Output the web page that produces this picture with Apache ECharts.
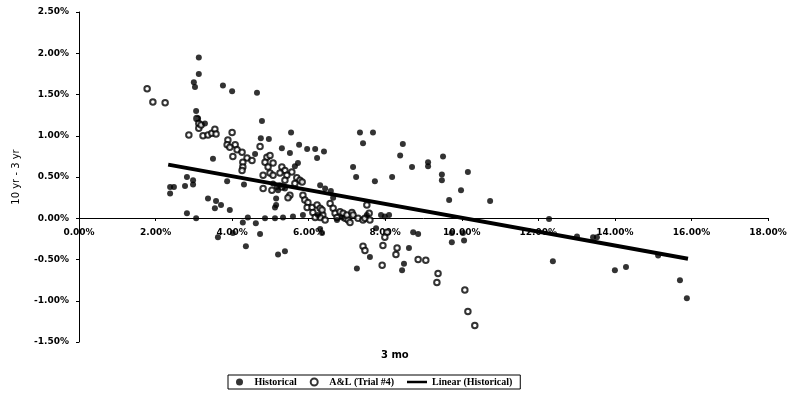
<!DOCTYPE html>
<html>
<head>
<meta charset="utf-8">
<script src="https://cdn.jsdelivr.net/npm/echarts@6/dist/echarts.min.js"></script>
<style>
  html, body { margin: 0; padding: 0; background: #fff; }
  #chart { width: 794px; height: 407px; }
</style>
</head>
<body>
<div id="chart"></div>
<script>
// values in percent: [3 mo, 10yr - 3yr]
const historical = [
  [3.13, 1.95], [3.13, 1.75], [3.00, 1.65], [3.03, 1.59], [3.76, 1.61], [4.00, 1.54], [4.65, 1.52],
  [3.06, 1.30], [3.11, 1.21], [3.29, 1.15], [4.78, 1.18], [5.54, 1.04], [4.75, 0.97], [4.96, 0.96],
  [5.30, 0.85], [5.51, 0.79], [4.60, 0.78], [3.50, 0.72], [5.75, 0.89], [5.96, 0.84], [6.17, 0.84],
  [6.40, 0.81], [6.22, 0.73], [5.72, 0.67], [5.64, 0.63], [2.82, 0.50], [2.98, 0.46], [2.77, 0.39],
  [2.38, 0.38], [2.48, 0.38], [2.38, 0.30], [2.98, 0.41], [3.87, 0.45], [4.31, 0.41], [3.37, 0.24],
  [3.58, 0.21], [3.71, 0.16], [3.55, 0.12], [3.94, 0.10], [2.82, 0.06], [3.06, 0.00], [4.28, -0.05],
  [4.41, 0.01], [4.62, -0.06], [4.86, 0.00], [5.12, 0.00], [5.33, 0.01], [5.59, 0.02], [5.85, 0.04],
  [6.24, 0.04], [4.02, -0.18], [3.63, -0.23], [4.36, -0.34], [4.73, -0.19], [5.20, -0.44], [5.38, -0.40],
  [5.17, 0.38], [5.25, 0.40], [5.38, 0.36], [6.30, 0.40], [6.43, 0.36], [6.58, 0.33], [6.64, 0.25],
  [5.07, 0.42], [5.20, 0.34], [5.15, 0.24], [5.15, 0.16], [5.12, 0.13], [7.34, 1.04], [7.68, 1.04],
  [7.42, 0.91], [8.46, 0.90], [8.39, 0.76], [9.12, 0.68], [9.12, 0.63], [8.70, 0.62], [7.16, 0.62],
  [7.24, 0.50], [7.73, 0.45], [8.18, 0.50], [9.51, 0.75], [9.48, 0.53], [9.48, 0.46], [10.16, 0.56],
  [9.98, 0.34], [9.67, 0.22], [10.74, 0.21], [6.74, -0.02], [6.87, 0.01], [7.52, 0.04], [7.89, 0.04],
  [7.99, 0.02], [8.10, 0.04], [6.30, -0.13], [6.35, -0.18], [7.76, -0.12], [8.73, -0.17], [8.86, -0.19],
  [8.62, -0.36], [7.60, -0.47], [8.49, -0.55], [8.44, -0.63], [7.26, -0.61], [9.74, -0.18], [9.74, -0.29],
  [10.03, -0.18], [10.06, -0.27], [12.28, -0.01], [12.38, -0.52], [13.01, -0.22], [13.43, -0.23],
  [13.53, -0.23], [14.00, -0.63], [14.29, -0.59], [15.13, -0.45], [15.70, -0.75], [15.88, -0.97]
];

const aandl = [
  [1.78, 1.57], [1.93, 1.41], [2.25, 1.40], [3.08, 1.21], [3.13, 1.15], [3.13, 1.09], [3.19, 1.13],
  [2.87, 1.01], [3.24, 1.00], [3.37, 1.01], [3.47, 1.03], [3.55, 1.08], [3.58, 1.02], [4.00, 1.04],
  [3.89, 0.95], [3.87, 0.89], [4.08, 0.89], [4.13, 0.83], [4.02, 0.75], [3.94, 0.86], [4.26, 0.80],
  [4.39, 0.73], [4.28, 0.68], [4.28, 0.62], [4.52, 0.70], [4.26, 0.58], [4.73, 0.87], [4.91, 0.74],
  [4.99, 0.76], [4.86, 0.68], [4.94, 0.62], [5.07, 0.67], [4.81, 0.52], [4.99, 0.55], [5.07, 0.52],
  [5.30, 0.62], [5.38, 0.58], [5.56, 0.56], [5.43, 0.52], [5.25, 0.55], [5.38, 0.46], [5.30, 0.38],
  [4.81, 0.36], [5.04, 0.34], [5.51, 0.28], [5.46, 0.25], [5.69, 0.49], [5.77, 0.46], [5.64, 0.42],
  [5.83, 0.44], [5.85, 0.28], [5.90, 0.22], [5.98, 0.19], [5.96, 0.13], [6.09, 0.13], [6.22, 0.16],
  [6.30, 0.12], [6.11, 0.07], [6.37, 0.04], [6.30, 0.01], [6.17, 0.01], [6.35, 0.10], [6.43, -0.02],
  [6.56, 0.18], [6.64, 0.12], [6.69, 0.06], [6.74, 0.01], [6.82, 0.08], [6.90, 0.06], [6.95, 0.00],
  [7.03, -0.02], [7.00, 0.04], [7.13, 0.07], [7.16, 0.04], [7.08, -0.05], [7.29, 0.00], [7.42, -0.02],
  [7.47, 0.00], [7.60, -0.02], [7.52, 0.16], [7.58, 0.06], [8.05, -0.17], [7.99, -0.23], [7.94, -0.33],
  [8.31, -0.36], [8.28, -0.44], [7.92, -0.57], [7.42, -0.34], [7.47, -0.39], [8.86, -0.50], [9.06, -0.51],
  [9.38, -0.67], [9.35, -0.78], [10.08, -0.87], [10.16, -1.13], [10.34, -1.30]
];

// end points of the linear fit as drawn
const trendLine = [[2.33, 0.65], [15.91, -0.49]];

const seriesNames = ['Historical', 'A&L (Trial #4)', 'Linear (Historical)'];

const labelFont = { fontFamily: 'DejaVu Sans', fontWeight: 'bold', fontSize: 9, color: '#000' };
const pct = v => v.toFixed(2) + '%';

const chart = echarts.init(document.getElementById('chart'), null, { renderer: 'canvas' });
chart.setOption({
  backgroundColor: '#fff',
  animation: false,
  grid: { left: 79, right: 26, top: 12, bottom: 65 },
  xAxis: {
    type: 'value',
    min: 0, max: 18, interval: 2,
    position: 'bottom',
    offset: -124, // x axis crosses at y = 0
    axisLine: { onZero: false, lineStyle: { color: '#000', width: 1 } },
    axisTick: { show: true, length: 3, lineStyle: { color: '#000' } },
    axisLabel: Object.assign({ formatter: pct, margin: 10 }, labelFont),
    splitLine: { show: false }
  },
  yAxis: {
    type: 'value',
    min: -1.5, max: 2.5, interval: 0.5,
    name: '10 yr - 3 yr',
    nameLocation: 'middle',
    nameGap: 58,
    nameTextStyle: { fontFamily: 'DejaVu Sans', fontSize: 10, color: '#000' },
    axisLine: { show: true, onZero: false, lineStyle: { color: '#000', width: 1 } },
    axisTick: { show: true, length: 3, lineStyle: { color: '#000' } },
    axisLabel: Object.assign({ formatter: pct, margin: 10 }, labelFont),
    splitLine: { show: false }
  },
  legend: {
    data: [
      { name: seriesNames[0] },
      { name: seriesNames[1] },
      { name: seriesNames[2], icon: 'path://M0,0H24V3H0Z' }
    ],
    left: 228, top: 375,
    borderColor: '#000', borderWidth: 1, borderRadius: 0,
    padding: [2, 8],
    itemGap: 13,
    itemWidth: 20, itemHeight: 7,
    symbolKeepAspect: true,
    textStyle: { fontFamily: 'Liberation Serif', fontWeight: 'bold', fontSize: 10, color: '#000' }
  },
  graphic: [{
    type: 'text', left: 381, top: 350,
    style: { text: '3 mo', fontFamily: 'DejaVu Sans', fontWeight: 'bold', fontSize: 10, fill: '#000' }
  }],
  series: [
    {
      name: seriesNames[0], type: 'scatter', data: historical,
      symbol: 'circle', symbolSize: 6,
      itemStyle: { color: '#000' }, z: 3
    },
    {
      name: seriesNames[1], type: 'scatter', data: aandl,
      symbol: 'emptyCircle', symbolSize: 5.5,
      itemStyle: { color: '#000', borderColor: '#000', borderWidth: 1 }, z: 2
    },
    {
      name: seriesNames[2], type: 'line', data: trendLine,
      symbol: 'none', lineStyle: { color: '#000', width: 4 },
      itemStyle: { color: '#000' }, z: 4
    }
  ]
});
</script>
</body>
</html>
